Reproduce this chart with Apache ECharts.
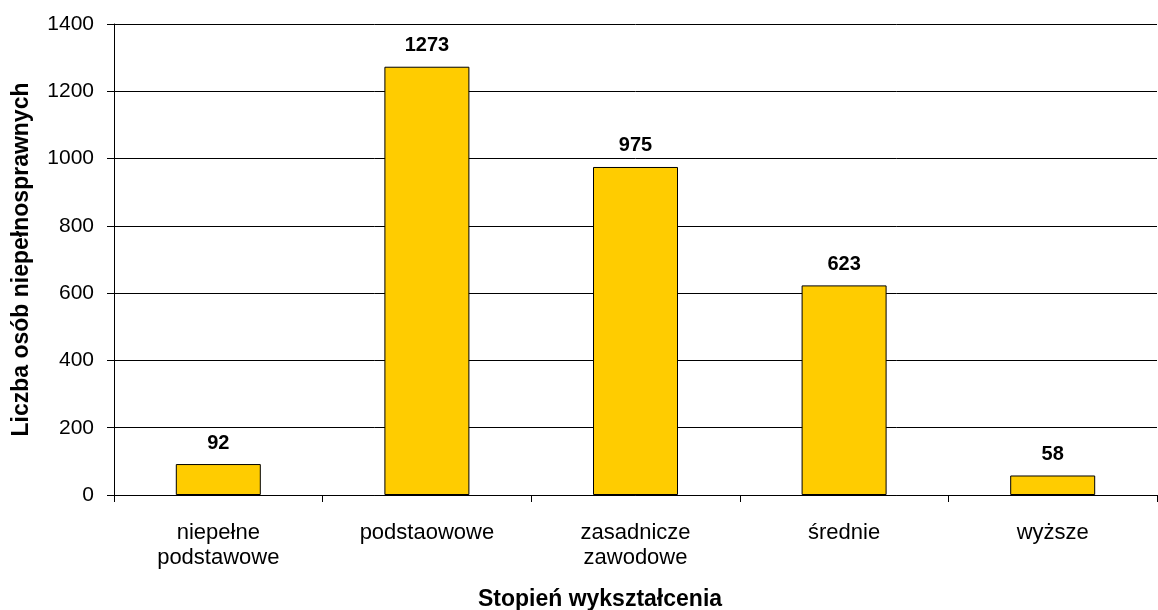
<!DOCTYPE html>
<html>
<head>
<meta charset="utf-8">
<script src="https://cdn.jsdelivr.net/npm/echarts@6/dist/echarts.min.js"></script>
<style>
  html, body { margin: 0; padding: 0; background: #fff; }
  #chart { width: 1158px; height: 610px; }
</style>
</head>
<body>
<div id="chart"></div>
<script>
// Education level categories and number of disabled persons
const categories = ['niepełne\npodstawowe', 'podstaowowe', 'zasadnicze\nzawodowe', 'średnie', 'wyższe'];
const counts = [92, 1273, 975, 623, 58];
const yTicks = { min: 0, max: 1400, interval: 200 };

const font = 'Arial, "Liberation Sans", sans-serif';
const chart = echarts.init(document.getElementById('chart'));
chart.setOption({
  animation: false,
  grid: { left: 114, right: 1, top: 24, bottom: 115, containLabel: false },
  xAxis: {
    type: 'category',
    data: categories,
    axisLine: { lineStyle: { color: '#000', width: 1 } },
    axisTick: { show: true, alignWithLabel: false, length: 7, lineStyle: { color: '#000' } },
    axisLabel: { color: '#000', fontFamily: font, fontSize: 22, margin: 25, lineHeight: 25, interval: 0 }
  },
  yAxis: {
    type: 'value',
    min: yTicks.min, max: yTicks.max, interval: yTicks.interval,
    name: 'Liczba osób niepełnosprawnych',
    nameLocation: 'middle',
    nameGap: 81,
    nameTextStyle: { color: '#000', fontFamily: font, fontSize: 23, fontWeight: 'bold' },
    axisLine: { show: true, lineStyle: { color: '#000', width: 1 } },
    axisTick: { show: true, length: 7, lineStyle: { color: '#000' } },
    axisLabel: { color: '#000', fontFamily: font, fontSize: 21, margin: 20, formatter: v => String(v) },
    splitLine: { show: true, lineStyle: { color: '#000', width: 1 } }
  },
  title: {
    text: 'Stopień wykształcenia',
    left: 595, top: 583,
    textAlign: 'center',
    textStyle: { color: '#000', fontFamily: font, fontSize: 23, fontWeight: 'bold' }
  },
  series: [{
    type: 'bar',
    data: counts,
    barWidth: 85,
    itemStyle: { color: '#FFCC00', borderColor: '#000', borderWidth: 1 },
    label: {
      show: true, position: 'top', distance: 11,
      color: '#000', fontFamily: font, fontSize: 20, fontWeight: 'bold'
    }
  }]
});
</script>
</body>
</html>
